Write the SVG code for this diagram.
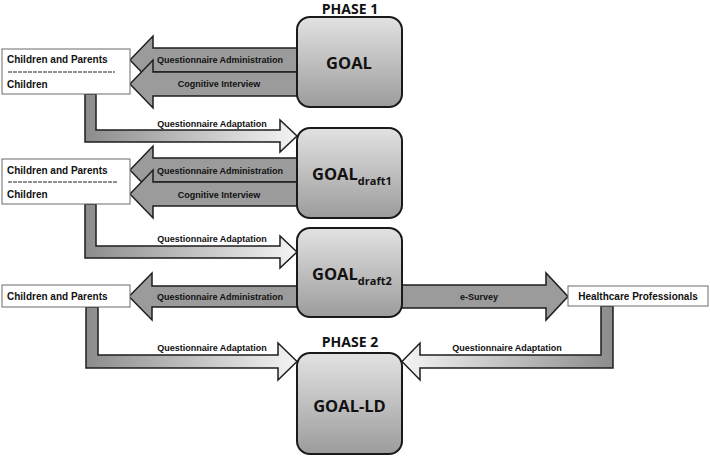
<svg xmlns="http://www.w3.org/2000/svg" width="710" height="456" viewBox="0 0 710 456">
<defs>
<linearGradient id="boxg" x1="0" y1="0" x2="0" y2="1">
<stop offset="0" stop-color="#e2e2e2"/>
<stop offset="1" stop-color="#9c9c9c"/>
</linearGradient>
<linearGradient id="adR" x1="0" y1="0" x2="1" y2="0">
<stop offset="0" stop-color="#8c8c8c"/>
<stop offset="1" stop-color="#f4f4f4"/>
</linearGradient>
<linearGradient id="adL" x1="1" y1="0" x2="0" y2="0">
<stop offset="0" stop-color="#8c8c8c"/>
<stop offset="1" stop-color="#f4f4f4"/>
</linearGradient>
</defs>
<style>
.arr{fill:#9b9b9b;stroke:#1e1e1e;stroke-width:1.5;stroke-linejoin:miter}
.adR{fill:url(#adR);stroke:#1e1e1e;stroke-width:1.5}
.adL{fill:url(#adL);stroke:#1e1e1e;stroke-width:1.5}
.goal{fill:url(#boxg);stroke:#1a1a1a;stroke-width:2}
.pbox{fill:#ffffff;stroke:#6a6a6a;stroke-width:1}
.lbl{font-family:"Liberation Sans",Arial,sans-serif;font-weight:bold;font-size:9px;fill:#111}
.ptx{font-family:"Liberation Sans",Arial,sans-serif;font-weight:bold;font-size:10px;fill:#111}
.gt{font-family:"Open Sans","Liberation Sans",sans-serif;font-weight:bold;font-size:16.5px;fill:#111}
.sub{font-family:"Open Sans","Liberation Sans",sans-serif;font-weight:bold;font-size:11px;fill:#111}
.ph{font-family:"Open Sans","Liberation Sans",sans-serif;font-weight:bold;font-size:14px;fill:#111}
.sep{stroke:#222;stroke-width:1;stroke-dasharray:4 1}
</style>
<g id="connectors">
<polygon class="arr" points="310,48 153,48 153,36 130,60 153,84 153,72 310,72"/>
<polygon class="arr" points="310,72 153,72 153,60 130,84 153,108 153,96 310,96"/>
<polygon class="arr" points="310,158 153,158 153,146 130,170 153,194 153,182 310,182"/>
<polygon class="arr" points="310,182 153,182 153,170 130,194 153,218 153,206 310,206"/>
<polygon class="arr" points="310,286 152,286 152,273 129,296.5 152,320 152,307 310,307"/>
<polygon class="arr" points="390,285 546,285 546,273 568,296.5 546,320 546,308 390,308"/>
<polygon class="adR" points="85,94 96,94 96,130 280,130 280,120 297,136 280,152 280,142 85,142"/>
<polygon class="adR" points="85,204 96,204 96,246 280,246 280,236 297,252 280,268 280,258 85,258"/>
<polygon class="adR" points="86,307 98,307 98,355 278,355 278,343 297,361.5 278,380 278,368 86,368"/>
<polygon class="adL" points="613,306 601,306 601,355 420,355 420,343 402,361.5 420,380 420,368 613,368"/>
<text class="lbl" x="220" y="63" text-anchor="middle">Questionnaire Administration</text>
<text class="lbl" x="219" y="87" text-anchor="middle">Cognitive Interview</text>
<text class="lbl" x="212" y="127" text-anchor="middle">Questionnaire Adaptation</text>
<text class="lbl" x="220" y="174" text-anchor="middle">Questionnaire Administration</text>
<text class="lbl" x="219" y="198" text-anchor="middle">Cognitive Interview</text>
<text class="lbl" x="212" y="242" text-anchor="middle">Questionnaire Adaptation</text>
<text class="lbl" x="220" y="300" text-anchor="middle">Questionnaire Administration</text>
<text class="lbl" x="479" y="300" text-anchor="middle">e-Survey</text>
<text class="lbl" x="212" y="351" text-anchor="middle">Questionnaire Adaptation</text>
<text class="lbl" x="507" y="351" text-anchor="middle">Questionnaire Adaptation</text>
</g>
<g id="phase1"><text class="ph" x="350" y="14" text-anchor="middle">PHASE 1</text></g>
<g id="phase2"><text class="ph" x="350" y="347" text-anchor="middle">PHASE 2</text></g>
<g id="goal">
<rect class="goal" x="297" y="17" width="105" height="90" rx="13"/>
<text class="gt" x="349" y="69" text-anchor="middle">GOAL</text>
</g>
<g id="goal-draft1">
<rect class="goal" x="297" y="128" width="105" height="90" rx="13"/>
<text class="gt" x="312" y="180">GOAL<tspan class="sub" dy="5">draft1</tspan></text>
</g>
<g id="goal-draft2">
<rect class="goal" x="297" y="228" width="105" height="89" rx="13"/>
<text class="gt" x="312" y="280">GOAL<tspan class="sub" dy="5">draft2</tspan></text>
</g>
<g id="goal-ld">
<rect class="goal" x="297" y="353" width="105" height="101" rx="13"/>
<text class="gt" x="349.5" y="412" text-anchor="middle">GOAL-LD</text>
</g>
<g id="participants1">
<rect class="pbox" x="2" y="49" width="128" height="45"/>
<text class="ptx" x="7" y="63">Children and Parents</text>
<line class="sep" x1="8" y1="72" x2="115" y2="72"/>
<text class="ptx" x="7" y="88">Children</text>
</g>
<g id="participants2">
<rect class="pbox" x="2" y="159" width="128" height="45"/>
<text class="ptx" x="7" y="174">Children and Parents</text>
<line class="sep" x1="8" y1="182" x2="117" y2="182"/>
<text class="ptx" x="7" y="198">Children</text>
</g>
<g id="participants3">
<rect class="pbox" x="2" y="285" width="128" height="22"/>
<text class="ptx" x="7" y="300">Children and Parents</text>
</g>
<g id="healthcare">
<rect class="pbox" x="568" y="286" width="140" height="20"/>
<text class="ptx" x="638" y="300" text-anchor="middle">Healthcare Professionals</text>
</g>
</svg>
